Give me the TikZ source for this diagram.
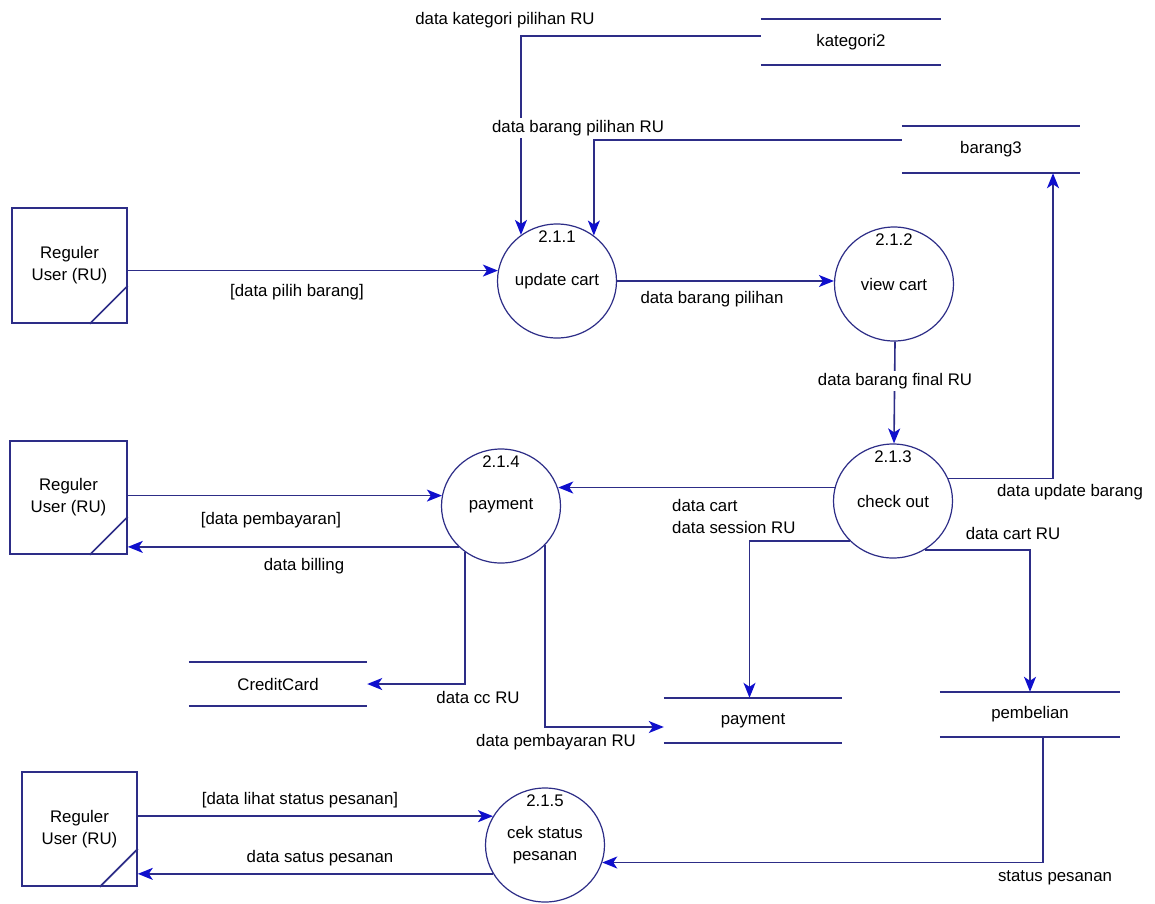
\documentclass[tikz,border=0pt]{standalone}
\usepackage{fontspec}
\setmainfont{Liberation Sans}
\usetikzlibrary{arrows.meta,shapes.geometric}
\definecolor{ln}{RGB}{45,45,135}
\definecolor{ah}{RGB}{15,15,205}
\begin{document}
\begin{tikzpicture}[x=1pt,y=-1pt,
 font=\fontsize{16.8}{22}\selectfont,
 every node/.style={inner sep=0pt},
 flow/.style={draw=ln,line width=1.6pt,-{Stealth[length=15pt,width=12pt,inset=4pt,color=ah]}},
 wire/.style={draw=ln,line width=1.6pt},
 proc/.style={ellipse,draw=ln,line width=1.2pt,minimum width=119pt,minimum height=114pt},
 ent/.style={draw=ln,line width=1.6pt,align=center},
 store/.style={minimum width=178pt,minimum height=45pt},
 cover/.style={fill=white,inner sep=2pt}]
\useasboundingbox[fill=white] (0,0) rectangle (1155,903);

% external entities
\node[ent,minimum width=115pt,minimum height=115pt] (e1) at (69.5,265.5) {Reguler\\User (RU)};
\node[ent,minimum width=117pt,minimum height=113pt] (e2) at (68.5,497.5) {Reguler\\User (RU)};
\node[ent,minimum width=115pt,minimum height=114pt] (e3) at (79.5,829) {Reguler\\User (RU)};
\foreach \e in {e1,e2,e3}{
  \draw[wire] ([xshift=-38pt]\e.south east) -- ([yshift=38pt]\e.south east);
}

% processes
\node[proc] (p1) at (557,281) {update cart};
\node[proc] (p2) at (894,284) {view cart};
\node[proc] (p3) at (893,501) {check out};
\node[proc] (p4) at (501,506) {payment};
\node[proc,align=center] (p5) at (545,845) {cek status\\pesanan};
\node (n1) at ([yshift=-13pt]p1.north) {2.1.1};
\node (n2) at ([yshift=-13pt]p2.north) {2.1.2};
\node (n3) at ([yshift=-13pt]p3.north) {2.1.3};
\node (n4) at ([yshift=-13pt]p4.north) {2.1.4};
\node (n5) at ([yshift=-13pt]p5.north) {2.1.5};

% data stores
\node[store,minimum width=180pt,minimum height=46pt] (kat) at (851,42) {kategori2};
\node[store,minimum height=47pt] (bar) at (991,149.5) {barang3};
\node[store,minimum height=44pt] (cc) at (278,684) {CreditCard};
\node[store] (pay) at (753,720.5) {payment};
\node[store,minimum width=180pt] (pemb) at (1030,714.5) {pembelian};
\foreach \s in {kat,bar,cc,pay,pemb}{
  \draw[wire] (\s.north west) -- (\s.north east) (\s.south west) -- (\s.south east);
}

% flows
\draw[flow] ([yshift=6pt]kat.west) -| (p1.128.4);
\draw[flow] ([yshift=9.5pt]bar.west) -| (p1.51.6);
\draw[flow] (e1.east |- p1.170.3) -- (p1.170.3);
\draw[flow] (p1.east) -- (p1.east -| p2.west);
\draw[flow] ([xshift=1pt]p2.south) -- ([xshift=1pt]p3.north);
\draw[flow] (p3.167.3) -- (p3.167.3 -| p4.17.7);
\draw[flow] (e2.east |- p4.170.3) -- (p4.170.3);
\draw[flow] (p4.224.8) -- (p4.224.8 -| e2.east);
\draw[flow] (p4.232.8) |- (cc.east);
\draw[flow] (p4.318.9) |- ([yshift=-6.5pt]pay.west);
\draw[flow] (p3.223.9) -| ([xshift=-3.5pt]pay.north);
\draw[flow] (p3.303.6) -| (pemb.north);
\draw[flow] (p3.22.9) -| ([xshift=62pt]bar.south);
\draw[flow] ([xshift=13pt]pemb.south) |- (p5.343.3);
\draw[flow] (e3.east |- p5.151.6) -- (p5.151.6);
\draw[flow] (p5.209.5) -- (p5.209.5 -| e3.east);

% labels
\node (l1) at (505,20) {data kategori pilihan RU};
\node[cover] (l2) at (578,128) {data barang pilihan RU};
\node (l3) at (297,292) {[data pilih barang]};
\node (l4) at (712,299) {data barang pilihan};
\node[cover] (l5) at (895,381) {data barang final RU};
\node (l6) at (1070,492) {data update barang};
\node[align=left,anchor=west] (l7) at (672,516) {data cart\\data session RU};
\node (l8) at (1013,533) {data cart RU};
\node (l9) at (271,520) {[data pembayaran]};
\node (l10) at (304,566) {data billing};
\node (l11) at (478,697) {data cc RU};
\node (l12) at (556,742) {data pembayaran RU};
\node (l13) at (300,800) {[data lihat status pesanan]};
\node (l14) at (320,858) {data satus pesanan};
\node (l15) at (1055,878) {status pesanan};
\end{tikzpicture}
\end{document}
